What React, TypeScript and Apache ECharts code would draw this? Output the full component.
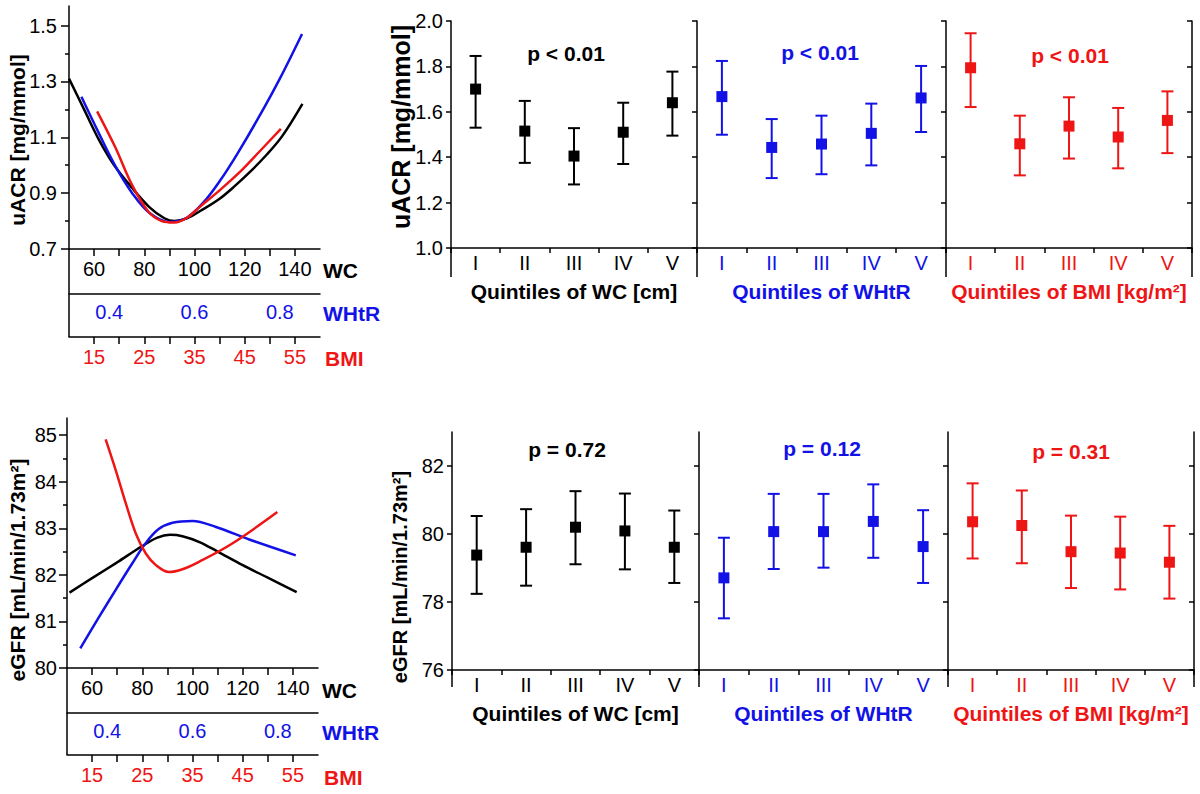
import React, { useEffect, useRef } from 'react';
import * as echarts from 'echarts';

const FONT = '"Liberation Sans", Arial, Helvetica, sans-serif';
const BLACK = '#000000';
const BLUE = '#1212e6';
const RED = '#ee1515';

const quintiles = ['I', 'II', 'III', 'IV', 'V'];

// ---- left panels: tick labels ----
const wcTicks = [60, 70, 80, 90, 100, 110, 120, 130, 140];
const wcTickLabels = [60, 80, 100, 120, 140];
const whtrTickLabels = [0.4, 0.6, 0.8];
const bmiTicks = [15, 20, 25, 30, 35, 40, 45, 50, 55];
const bmiTickLabels = [15, 25, 35, 45, 55];
const uacrTickLabels = [0.7, 0.9, 1.1, 1.3, 1.5];
const uacrMinorTicks = [0.8, 1.0, 1.2, 1.4];
const egfrTickLabels = [80, 81, 82, 83, 84, 85];
const egfrMinorTicks = [80.5, 81.5, 82.5, 83.5, 84.5];
const midUacrTicks = [1.0, 1.2, 1.4, 1.6, 1.8, 2.0];
const midEgfrTicks = [76, 78, 80, 82];

// ---- top-left: uACR splines ----
const uacrWcX = [50, 56, 62, 68, 75, 82, 88, 92, 97, 103, 110, 116, 122, 129, 135, 143];
const uacrWcY = [1.31, 1.2, 1.09, 1.0, 0.92, 0.85, 0.81, 0.8, 0.81, 0.84, 0.88, 0.925, 0.975, 1.04, 1.105, 1.22];
const uacrWhtrX = [0.335, 0.376, 0.416, 0.454, 0.494, 0.541, 0.58, 0.62, 0.66, 0.7, 0.75, 0.8, 0.852];
const uacrWhtrY = [1.245, 1.114, 0.993, 0.9, 0.83, 0.797, 0.81, 0.865, 0.945, 1.04, 1.17, 1.31, 1.47];
const uacrBmiX = [15.6, 19.2, 22.4, 25.8, 28.5, 31, 33.5, 36, 40, 44, 48, 52.2];
const uacrBmiY = [1.193, 1.065, 0.935, 0.834, 0.8, 0.795, 0.812, 0.85, 0.91, 0.975, 1.05, 1.13];

// ---- bottom-left: eGFR splines ----
const egfrWcX = [51, 60, 70, 80, 86, 91, 96, 103, 110, 120, 130, 141.5];
const egfrWcY = [81.62, 81.93, 82.27, 82.62, 82.8, 82.86, 82.83, 82.7, 82.5, 82.21, 81.94, 81.63];
const egfrWhtrX = [0.337, 0.38, 0.42, 0.459, 0.49, 0.52, 0.553, 0.6, 0.655, 0.733, 0.842];
const egfrWhtrY = [80.42, 81.08, 81.68, 82.25, 82.68, 82.98, 83.12, 83.16, 83.03, 82.76, 82.42];
const egfrBmiX = [17.7, 19.7, 21.7, 23.7, 25.7, 27.7, 30.3, 33.0, 36.3, 43, 51.9];
const egfrBmiY = [84.91, 84.25, 83.54, 82.89, 82.46, 82.21, 82.06, 82.12, 82.28, 82.68, 83.35];

// ---- quintile panels: uACR ----
const uacrWcMean = [1.7, 1.515, 1.405, 1.51, 1.64];
const uacrWcLow = [1.53, 1.375, 1.28, 1.37, 1.495];
const uacrWcHigh = [1.846, 1.648, 1.528, 1.64, 1.777];
const uacrWhtrMean = [1.667, 1.443, 1.458, 1.505, 1.661];
const uacrWhtrLow = [1.499, 1.308, 1.325, 1.364, 1.511];
const uacrWhtrHigh = [1.824, 1.568, 1.583, 1.636, 1.802];
const uacrBmiMean = [1.794, 1.459, 1.537, 1.489, 1.562];
const uacrBmiLow = [1.621, 1.32, 1.394, 1.351, 1.418];
const uacrBmiHigh = [1.946, 1.583, 1.664, 1.617, 1.69];

// ---- quintile panels: eGFR ----
const egfrWcMean = [79.38, 79.61, 80.2, 80.09, 79.61];
const egfrWcLow = [78.24, 78.48, 79.11, 78.96, 78.56];
const egfrWcHigh = [80.53, 80.73, 81.26, 81.19, 80.69];
const egfrWhtrMean = [78.71, 80.07, 80.07, 80.37, 79.63];
const egfrWhtrLow = [77.52, 78.97, 79.01, 79.3, 78.56];
const egfrWhtrHigh = [79.89, 81.18, 81.18, 81.46, 80.7];
const egfrBmiMean = [80.36, 80.25, 79.48, 79.44, 79.17];
const egfrBmiLow = [79.28, 79.14, 78.41, 78.37, 78.1];
const egfrBmiHigh = [81.49, 81.28, 80.54, 80.51, 80.24];

const pTexts = ['p < 0.01', 'p < 0.01', 'p < 0.01', 'p = 0.72', 'p = 0.12', 'p = 0.31'];
const xTitles = ['Quintiles of WC [cm]', 'Quintiles of WHtR', 'Quintiles of BMI [kg/m²]'];

const zip = (xs: number[], ys: number[]) => xs.map((x, i) => [x, ys[i]]);

const WC_MIN = 50;
const WC_MAX = 150;
const toWhtr = (wc: number) => 0.6 + (wc - 100) / 170;
const toBmi = (wc: number) => 15 + (wc - 60) / 2;

const axisLine = (color = BLACK) => ({ show: true, onZero: false, lineStyle: { color, width: 1.5 } });

function leftXAxes(gridIndex: number) {
  return [
    {
      type: 'value', gridIndex, position: 'bottom', offset: 0, min: WC_MIN, max: WC_MAX,
      axisLine: axisLine(),
      axisTick: { show: true, customValues: wcTicks, length: 7, lineStyle: { color: BLACK, width: 1.5 } },
      axisLabel: { customValues: wcTickLabels, color: BLACK, fontSize: 20, margin: 10, fontFamily: FONT },
      splitLine: { show: false },
    },
    {
      type: 'value', gridIndex, position: 'bottom', offset: 45, min: toWhtr(WC_MIN), max: toWhtr(WC_MAX),
      axisLine: axisLine(),
      axisTick: { show: false },
      axisLabel: { customValues: whtrTickLabels, color: BLUE, fontSize: 20, margin: 8, fontFamily: FONT, formatter: (v: number) => v.toFixed(1) },
      splitLine: { show: false },
    },
    {
      type: 'value', gridIndex, position: 'bottom', offset: gridIndex === 0 ? 88 : 87, min: toBmi(WC_MIN), max: toBmi(WC_MAX),
      axisLine: axisLine(),
      axisTick: { show: true, customValues: bmiTicks, length: 7, lineStyle: { color: BLACK, width: 1.5 } },
      axisLabel: { customValues: bmiTickLabels, color: RED, fontSize: 20, margin: 10, fontFamily: FONT },
      splitLine: { show: false },
    },
  ];
}

function leftYAxes(gridIndex: number, min: number, max: number, labels: number[], minors: number[], digits: number, margin: number) {
  return [
    {
      type: 'value', gridIndex, min, max, position: 'left',
      axisLine: axisLine(),
      axisTick: { show: true, customValues: labels, length: 8, lineStyle: { color: BLACK, width: 1.5 } },
      axisLabel: { customValues: labels, color: BLACK, fontSize: 20, margin, fontFamily: FONT, formatter: (v: number) => v.toFixed(digits) },
      splitLine: { show: false },
    },
    {
      type: 'value', gridIndex, min, max, position: 'left',
      axisLine: { show: false },
      axisTick: { show: true, customValues: minors, length: 4, lineStyle: { color: BLACK, width: 1.5 } },
      axisLabel: { show: false },
      splitLine: { show: false },
    },
  ];
}

function midXAxis(gridIndex: number, color: string, title: string) {
  return {
    type: 'category', gridIndex, data: quintiles, position: 'bottom', boundaryGap: true,
    axisLine: axisLine(),
    axisTick: { show: true, length: 5, interval: 0, lineStyle: { color: BLACK, width: 1.5 } },
    axisLabel: { color, fontSize: 20, margin: 5, interval: 0, fontFamily: FONT },
    name: title, nameLocation: 'middle', nameGap: 33,
    nameTextStyle: { color, fontSize: 21, fontWeight: 'bold', fontFamily: FONT },
    splitLine: { show: false },
  };
}

function midYAxis(gridIndex: number, min: number, max: number, ticks: number[], showLabels: boolean, digits: number, position = 'left') {
  return {
    type: 'value', gridIndex, min, max, position,
    axisLine: axisLine(),
    axisTick: { show: true, customValues: ticks, length: 5, inside: position === 'right', lineStyle: { color: BLACK, width: 1.5 } },
    axisLabel: showLabels
      ? { customValues: ticks, color: BLACK, fontSize: 20, margin: 8, fontFamily: FONT, formatter: (v: number) => v.toFixed(digits) }
      : { show: false },
    splitLine: { show: false },
  };
}

function errorSeries(xAxisIndex: number, yAxisIndex: number, color: string, low: number[], high: number[]) {
  return {
    type: 'custom', xAxisIndex, yAxisIndex, silent: true,
    data: low.map((l, i) => [i, l, high[i]]),
    renderItem: (_params: any, api: any) => {
      const i = api.value(0);
      const pLo = api.coord([i, api.value(1)]);
      const pHi = api.coord([i, api.value(2)]);
      const half = 6;
      const style = { stroke: color, lineWidth: 2 };
      return {
        type: 'group',
        children: [
          { type: 'line', shape: { x1: pHi[0], y1: pHi[1], x2: pLo[0], y2: pLo[1] }, style },
          { type: 'line', shape: { x1: pHi[0] - half, y1: pHi[1], x2: pHi[0] + half, y2: pHi[1] }, style },
          { type: 'line', shape: { x1: pLo[0] - half, y1: pLo[1], x2: pLo[0] + half, y2: pLo[1] }, style },
        ],
      };
    },
    z: 2,
  };
}

function meanSeries(xAxisIndex: number, yAxisIndex: number, color: string, mean: number[]) {
  return {
    type: 'scatter', xAxisIndex, yAxisIndex, data: mean, symbol: 'rect', symbolSize: 11,
    itemStyle: { color, opacity: 1 }, z: 3, silent: true,
  };
}

function curve(xAxisIndex: number, yAxisIndex: number, color: string, xs: number[], ys: number[]) {
  return {
    type: 'line', xAxisIndex, yAxisIndex, data: zip(xs, ys), smooth: 0.35, showSymbol: false,
    lineStyle: { color, width: 2.5 }, itemStyle: { color }, silent: true,
  };
}

function buildOption() {
  const grids = [
    { left: 69, top: 6, width: 251, height: 243 },
    { left: 67, top: 418, width: 251, height: 250 },
    { left: 451, top: 21, width: 246, height: 227 },
    { left: 697, top: 21, width: 249, height: 227 },
    { left: 946, top: 21, width: 246, height: 227 },
    { left: 452, top: 432, width: 247, height: 238 },
    { left: 699, top: 432, width: 249, height: 238 },
    { left: 948, top: 432, width: 246, height: 238 },
  ].map((g) => ({ ...g, containLabel: false, outerBoundsMode: 'none' }));

  const panelColors = [BLACK, BLUE, RED, BLACK, BLUE, RED];

  const xAxis: any[] = [
    ...leftXAxes(0), // 0..2
    ...leftXAxes(1), // 3..5
  ];
  for (let k = 0; k < 6; k++) xAxis.push(midXAxis(2 + k, panelColors[k], xTitles[k % 3])); // 6..11

  const yAxis: any[] = [
    ...leftYAxes(0, 0.7, 1.57, uacrTickLabels, uacrMinorTicks, 1, 12), // 0,1
    ...leftYAxes(1, 80, 85.37, egfrTickLabels, egfrMinorTicks, 0, 10), // 2,3
  ];
  for (let k = 0; k < 6; k++) {
    const top = k < 3;
    yAxis.push(midYAxis(2 + k, top ? 1.0 : 76, top ? 2.0 : 83, top ? midUacrTicks : midEgfrTicks, k % 3 === 0, top ? 1 : 0)); // 4..9
  }
  yAxis.push(midYAxis(4, 1.0, 2.0, midUacrTicks, false, 1, 'right')); // 10
  yAxis.push(midYAxis(7, 76, 83, midEgfrTicks, false, 0, 'right')); // 11

  const means = [uacrWcMean, uacrWhtrMean, uacrBmiMean, egfrWcMean, egfrWhtrMean, egfrBmiMean];
  const lows = [uacrWcLow, uacrWhtrLow, uacrBmiLow, egfrWcLow, egfrWhtrLow, egfrBmiLow];
  const highs = [uacrWcHigh, uacrWhtrHigh, uacrBmiHigh, egfrWcHigh, egfrWhtrHigh, egfrBmiHigh];

  const series: any[] = [
    curve(0, 0, BLACK, uacrWcX, uacrWcY),
    curve(1, 0, BLUE, uacrWhtrX, uacrWhtrY),
    curve(2, 0, RED, uacrBmiX, uacrBmiY),
    curve(3, 2, BLACK, egfrWcX, egfrWcY),
    curve(4, 2, BLUE, egfrWhtrX, egfrWhtrY),
    curve(5, 2, RED, egfrBmiX, egfrBmiY),
  ];
  for (let k = 0; k < 6; k++) {
    series.push(errorSeries(6 + k, 4 + k, panelColors[k], lows[k], highs[k]));
    series.push(meanSeries(6 + k, 4 + k, panelColors[k], means[k]));
  }

  const bold = (size: number) => `bold ${size}px ${FONT}`;
  const txt = (text: string, x: number, y: number, color: string, size: number, align = 'left', rotation = 0) => ({
    type: 'text', x, y, rotation, silent: true,
    style: { text, fill: color, font: bold(size), align, verticalAlign: 'middle' },
  });
  const vline = (x: number, y1: number, y2: number) => ({
    type: 'line', silent: true, shape: { x1: x, y1, x2: x, y2 }, style: { stroke: BLACK, lineWidth: 1.5 },
  });

  const graphic: any[] = [
    // y titles
    txt('uACR [mg/mmol]', 17, 140, BLACK, 21, 'center', Math.PI / 2),
    txt('eGFR [mL/min/1.73m²]', 17, 570, BLACK, 21, 'center', Math.PI / 2),
    txt('uACR [mg/mmol]', 401, 127, BLACK, 25, 'center', Math.PI / 2),
    txt('eGFR [mL/min/1.73m²]', 400, 577, BLACK, 20, 'center', Math.PI / 2),
    // left axis names
    txt('WC', 323, 270, BLACK, 21),
    txt('WHtR', 323, 313, BLUE, 21),
    txt('BMI', 325, 358, RED, 21),
    txt('WC', 322, 690, BLACK, 21),
    txt('WHtR', 322, 732, BLUE, 21),
    txt('BMI', 324, 777, RED, 21),
    // p values
    txt(pTexts[0], 566, 53, BLACK, 21, 'center'),
    txt(pTexts[1], 820, 52, BLUE, 21, 'center'),
    txt(pTexts[2], 1070, 55, RED, 21, 'center'),
    txt(pTexts[3], 567, 449, BLACK, 21, 'center'),
    txt(pTexts[4], 822, 448, BLUE, 21, 'center'),
    txt(pTexts[5], 1071, 451, RED, 21, 'center'),
    // axis extensions
    vline(69, 249, 337),
    vline(67, 668, 755),
    vline(451, 248, 277),
    vline(697, 248, 277),
    vline(946, 248, 277),
    vline(1192, 248, 277),
    vline(452, 670, 687),
    vline(699, 670, 687),
    vline(948, 670, 687),
    vline(1194, 670, 687),
  ];

  return {
    animation: false,
    backgroundColor: '#ffffff',
    textStyle: { fontFamily: FONT },
    grid: grids,
    xAxis,
    yAxis,
    series,
    graphic,
  };
}

export default function App() {
  const ref = useRef<HTMLDivElement>(null);
  useEffect(() => {
    if (!ref.current) return;
    const chart = echarts.init(ref.current, undefined, { renderer: 'svg' });
    chart.setOption(buildOption() as any);
    return () => chart.dispose();
  }, []);
  return (
    <div
      ref={ref}
      style={{ position: 'absolute', left: 0, top: 0, width: 1200, height: 794, background: '#fff' }}
    />
  );
}
